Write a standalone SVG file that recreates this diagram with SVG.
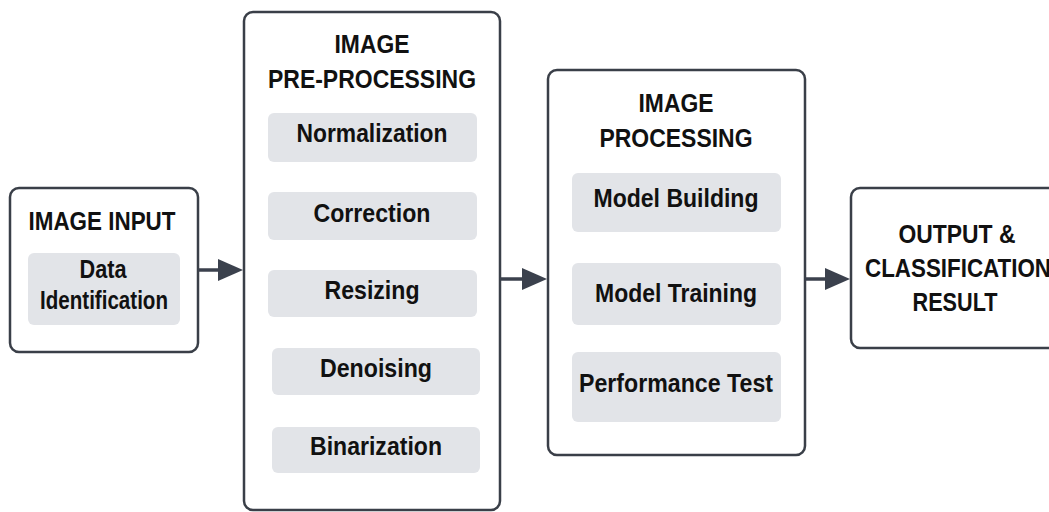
<svg xmlns="http://www.w3.org/2000/svg" width="1049" height="512" viewBox="0 0 1049 512">
<style>
.box{fill:#ffffff;stroke:#3a3f48;stroke-width:2.5}
.sub{fill:#e2e4e8;stroke:none}
.t{font-family:"Liberation Sans",Arial,sans-serif;font-weight:bold;font-size:26px;fill:#111111;text-anchor:middle}
.conn{stroke:#3b414d;stroke-width:3.5;fill:none}
.head{fill:#3b414d}
</style>
<rect width="1049" height="512" fill="#ffffff"/>
<g id="image-input">
<rect class="box" x="10" y="188" width="188" height="164" rx="9"/>
<text class="t" x="102" y="230" textLength="147" lengthAdjust="spacingAndGlyphs">IMAGE INPUT</text>
<rect class="sub" x="28" y="253" width="152" height="72" rx="6"/>
<text class="t" x="103" y="278" textLength="47" lengthAdjust="spacingAndGlyphs">Data</text>
<text class="t" x="104" y="309" textLength="128" lengthAdjust="spacingAndGlyphs">Identification</text>
</g>
<g id="pre-processing">
<rect class="box" x="244" y="12" width="256" height="498" rx="9"/>
<text class="t" x="372" y="53" textLength="75" lengthAdjust="spacingAndGlyphs">IMAGE</text>
<text class="t" x="372" y="88" textLength="208" lengthAdjust="spacingAndGlyphs">PRE-PROCESSING</text>
<rect class="sub" x="268" y="113" width="209" height="49" rx="6"/>
<text class="t" x="372" y="142" textLength="151" lengthAdjust="spacingAndGlyphs">Normalization</text>
<rect class="sub" x="268" y="192" width="209" height="48" rx="6"/>
<text class="t" x="372" y="222" textLength="117" lengthAdjust="spacingAndGlyphs">Correction</text>
<rect class="sub" x="268" y="270" width="209" height="47" rx="6"/>
<text class="t" x="372" y="299" textLength="95" lengthAdjust="spacingAndGlyphs">Resizing</text>
<rect class="sub" x="272" y="348" width="208" height="47" rx="6"/>
<text class="t" x="376" y="377" textLength="112" lengthAdjust="spacingAndGlyphs">Denoising</text>
<rect class="sub" x="272" y="427" width="208" height="46" rx="6"/>
<text class="t" x="376" y="455" textLength="132" lengthAdjust="spacingAndGlyphs">Binarization</text>
</g>
<g id="image-processing">
<rect class="box" x="548" y="70" width="257" height="385" rx="9"/>
<text class="t" x="676" y="112" textLength="75" lengthAdjust="spacingAndGlyphs">IMAGE</text>
<text class="t" x="676" y="147" textLength="153" lengthAdjust="spacingAndGlyphs">PROCESSING</text>
<rect class="sub" x="572" y="173" width="209" height="59" rx="6"/>
<text class="t" x="676" y="207" textLength="165" lengthAdjust="spacingAndGlyphs">Model Building</text>
<rect class="sub" x="572" y="263" width="209" height="62" rx="6"/>
<text class="t" x="676" y="302" textLength="162" lengthAdjust="spacingAndGlyphs">Model Training</text>
<rect class="sub" x="572" y="352" width="209" height="70" rx="6"/>
<text class="t" x="676" y="392" textLength="194" lengthAdjust="spacingAndGlyphs">Performance Test</text>
</g>
<g id="output">
<rect class="box" x="851" y="188" width="215" height="160" rx="9"/>
<text class="t" x="957" y="243" textLength="117" lengthAdjust="spacingAndGlyphs">OUTPUT &amp;</text>
<text class="t" x="958" y="277" textLength="186" lengthAdjust="spacingAndGlyphs">CLASSIFICATION</text>
<text class="t" x="955" y="311" textLength="85" lengthAdjust="spacingAndGlyphs">RESULT</text>
</g>
<g id="connectors">
<line class="conn" x1="198" y1="270" x2="220" y2="270"/>
<polygon class="head" points="218,259 243,270 218,281"/>
<line class="conn" x1="500" y1="279" x2="524" y2="279"/>
<polygon class="head" points="522,268 547,279 522,290"/>
<line class="conn" x1="805" y1="279" x2="827" y2="279"/>
<polygon class="head" points="825,268 850,279 825,290"/>
</g>
</svg>
